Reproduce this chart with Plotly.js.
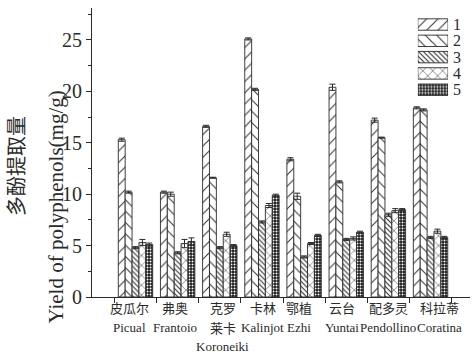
<!DOCTYPE html>
<html>
<head>
<meta charset="utf-8">
<script src="https://cdn.plot.ly/plotly-3.0.1.min.js"></script>
<style>html,body{margin:0;padding:0;background:#fff;}#chart{width:472px;height:361px;}</style>
</head>
<body>
<div id="chart"></div>
<script>
// ---- data ----
var categoriesCN = ['皮瓜尔', '弗奥', '克罗<br>莱卡', '卡林', '鄂植', '云台', '配多灵', '科拉蒂'];
var categoriesEN = ['Picual', 'Frantoio', 'Koroneiki', 'Kalinjot', 'Ezhi', 'Yuntai', 'Pendollino', 'Coratina'];
var seriesNames = ['1', '2', '3', '4', '5'];
var series1 = [15.3, 10.2, 16.6, 25.1, 13.4, 20.4, 17.2, 18.4];
var series2 = [10.2, 10.0, 11.6, 20.2, 9.8, 11.2, 15.5, 18.2];
var series3 = [4.8, 4.3, 4.8, 7.3, 3.9, 5.6, 8.0, 5.8];
var series4 = [5.3, 5.2, 6.1, 8.9, 5.2, 5.7, 8.4, 6.4];
var series5 = [5.1, 5.4, 5.0, 9.9, 6.0, 6.3, 8.5, 5.8];
var err1 = [0.15, 0.1, 0.1, 0.1, 0.15, 0.3, 0.2, 0.1];
var err2 = [0.1, 0.2, 0.05, 0.1, 0.3, 0.1, 0.05, 0.1];
var err3 = [0.1, 0.1, 0.1, 0.1, 0.1, 0.1, 0.15, 0.1];
var err4 = [0.3, 0.4, 0.2, 0.2, 0.1, 0.15, 0.2, 0.2];
var err5 = [0.15, 0.35, 0.1, 0.1, 0.1, 0.1, 0.1, 0.1];
var yTitleCN = '多酚提取量';
var yTitleEN = 'Yield of polyphenols(mg/g)';

// ---- styles ----
var ink = '#2a2a2a';
var serif = '"Liberation Serif", "Noto Sans CJK SC", serif';
var cjk = '"Noto Sans CJK SC", sans-serif';
var labelNudge = [-6, -3, 3, 1, -5, -4, 0, 9]; // px nudges of category labels, as typeset in the original
var patterns = [
  {shape: '/', size: 8, solidity: 0.12, fgcolor: ink, bgcolor: '#fff'},
  {shape: '\\', size: 8, solidity: 0.12, fgcolor: ink, bgcolor: '#fff'},
  {shape: '\\', size: 3.5, solidity: 0.3, fgcolor: ink, bgcolor: '#fff'},
  {shape: 'x', size: 7, solidity: 0.14, fgcolor: ink, bgcolor: '#fff'},
  {shape: '.', size: 3, solidity: 0.35, fgcolor: '#fff', bgcolor: '#1a1a1a'}
];

var xIdx = categoriesEN.map(function (_, i) { return i; });
var boundaries = categoriesEN.map(function (_, i) { return i - 0.5; }).concat([categoriesEN.length - 0.5]);
var allSeries = [series1, series2, series3, series4, series5];
var allErr = [err1, err2, err3, err4, err5];

var traces = allSeries.map(function (vals, s) {
  return {
    type: 'bar', x: xIdx, y: vals, name: seriesNames[s], showlegend: false,
    marker: {color: '#fff', line: {color: ink, width: 0.9}, pattern: patterns[s]},
    error_y: {type: 'data', array: allErr[s], visible: true, color: ink, thickness: 1, width: 3},
    hoverinfo: 'skip'
  };
});

// legend drawn as small patterned horizontal bars
var legendRows = seriesNames.map(function (_, i) { return i + 1; });
seriesNames.forEach(function (nm, s) {
  traces.push({
    type: 'bar', orientation: 'h', x: [1], y: [legendRows[s]], xaxis: 'x3', yaxis: 'y3',
    width: 0.7, offsetgroup: 'leg', showlegend: false, hoverinfo: 'skip',
    marker: {color: '#fff', line: {color: ink, width: 0.9}, pattern: patterns[s]}
  });
});

var annotations = [
  {text: yTitleCN, xref: 'paper', yref: 'paper', x: -0.204, y: 0.453, textangle: -90,
   xanchor: 'center', yanchor: 'middle', showarrow: false,
   font: {family: cjk, size: 20, color: ink}},
  {text: yTitleEN, xref: 'paper', yref: 'paper', x: -0.094, y: 0.311, textangle: -90,
   xanchor: 'center', yanchor: 'middle', showarrow: false,
   font: {family: serif, size: 21, color: ink}}
];
seriesNames.forEach(function (nm, s) {
  annotations.push({text: nm, xref: 'paper', yref: 'y3', x: 0.952, y: legendRows[s],
    xanchor: 'left', yanchor: 'middle', showarrow: false, height: 15, borderpad: 0,
    font: {family: serif, size: 16, color: ink}});
});
// category labels: Chinese line(s) then English line, stacked under each group
categoriesEN.forEach(function (en, i) {
  var lines = categoriesCN[i].split('<br>');
  var fams = lines.map(function () { return cjk; });
  lines.push(en); fams.push(serif);
  lines.forEach(function (t, j) {
    annotations.push({text: t, xref: 'x', yref: 'paper', x: xIdx[i], y: 0,
      xanchor: 'center', yanchor: 'middle', xshift: labelNudge[i], yshift: -(10 + 19.5 * j),
      showarrow: false, borderpad: 0, height: 16,
      font: {family: fams[j], size: 13, color: ink}});
  });
});

var layout = {
  width: 472, height: 361,
  margin: {l: 92, r: 2, t: 8, b: 64},
  paper_bgcolor: '#fff', plot_bgcolor: '#fff',
  barmode: 'group', bargap: 0.184, bargroupgap: 0,
  showlegend: false,
  xaxis: {
    range: [-1.032, 7.936], showline: true, linecolor: ink, linewidth: 1,
    showgrid: false, zeroline: false, tickmode: 'array', tickvals: boundaries,
    showticklabels: false, ticks: 'outside', ticklen: 5, tickcolor: ink, tickwidth: 1
  },
  yaxis: {
    range: [0, 28.11], showline: true, linecolor: ink, linewidth: 1,
    showgrid: false, zeroline: false, dtick: 5, tick0: 0,
    ticks: 'outside', ticklen: 5, tickcolor: ink, tickwidth: 1,
    tickfont: {family: serif, size: 20, color: ink},
    minor: {dtick: 2.5, ticks: 'outside', ticklen: 3, tickcolor: ink, tickwidth: 1, showgrid: false}
  },
  xaxis3: {domain: [0.862, 0.942], range: [0, 1], visible: false, anchor: 'y3', fixedrange: true},
  yaxis3: {domain: [0.689, 0.971], range: [5.5, 0.5], visible: false, anchor: 'x3', fixedrange: true},
  annotations: annotations
};

Plotly.newPlot('chart', traces, layout, {staticPlot: true});
</script>
</body>
</html>
